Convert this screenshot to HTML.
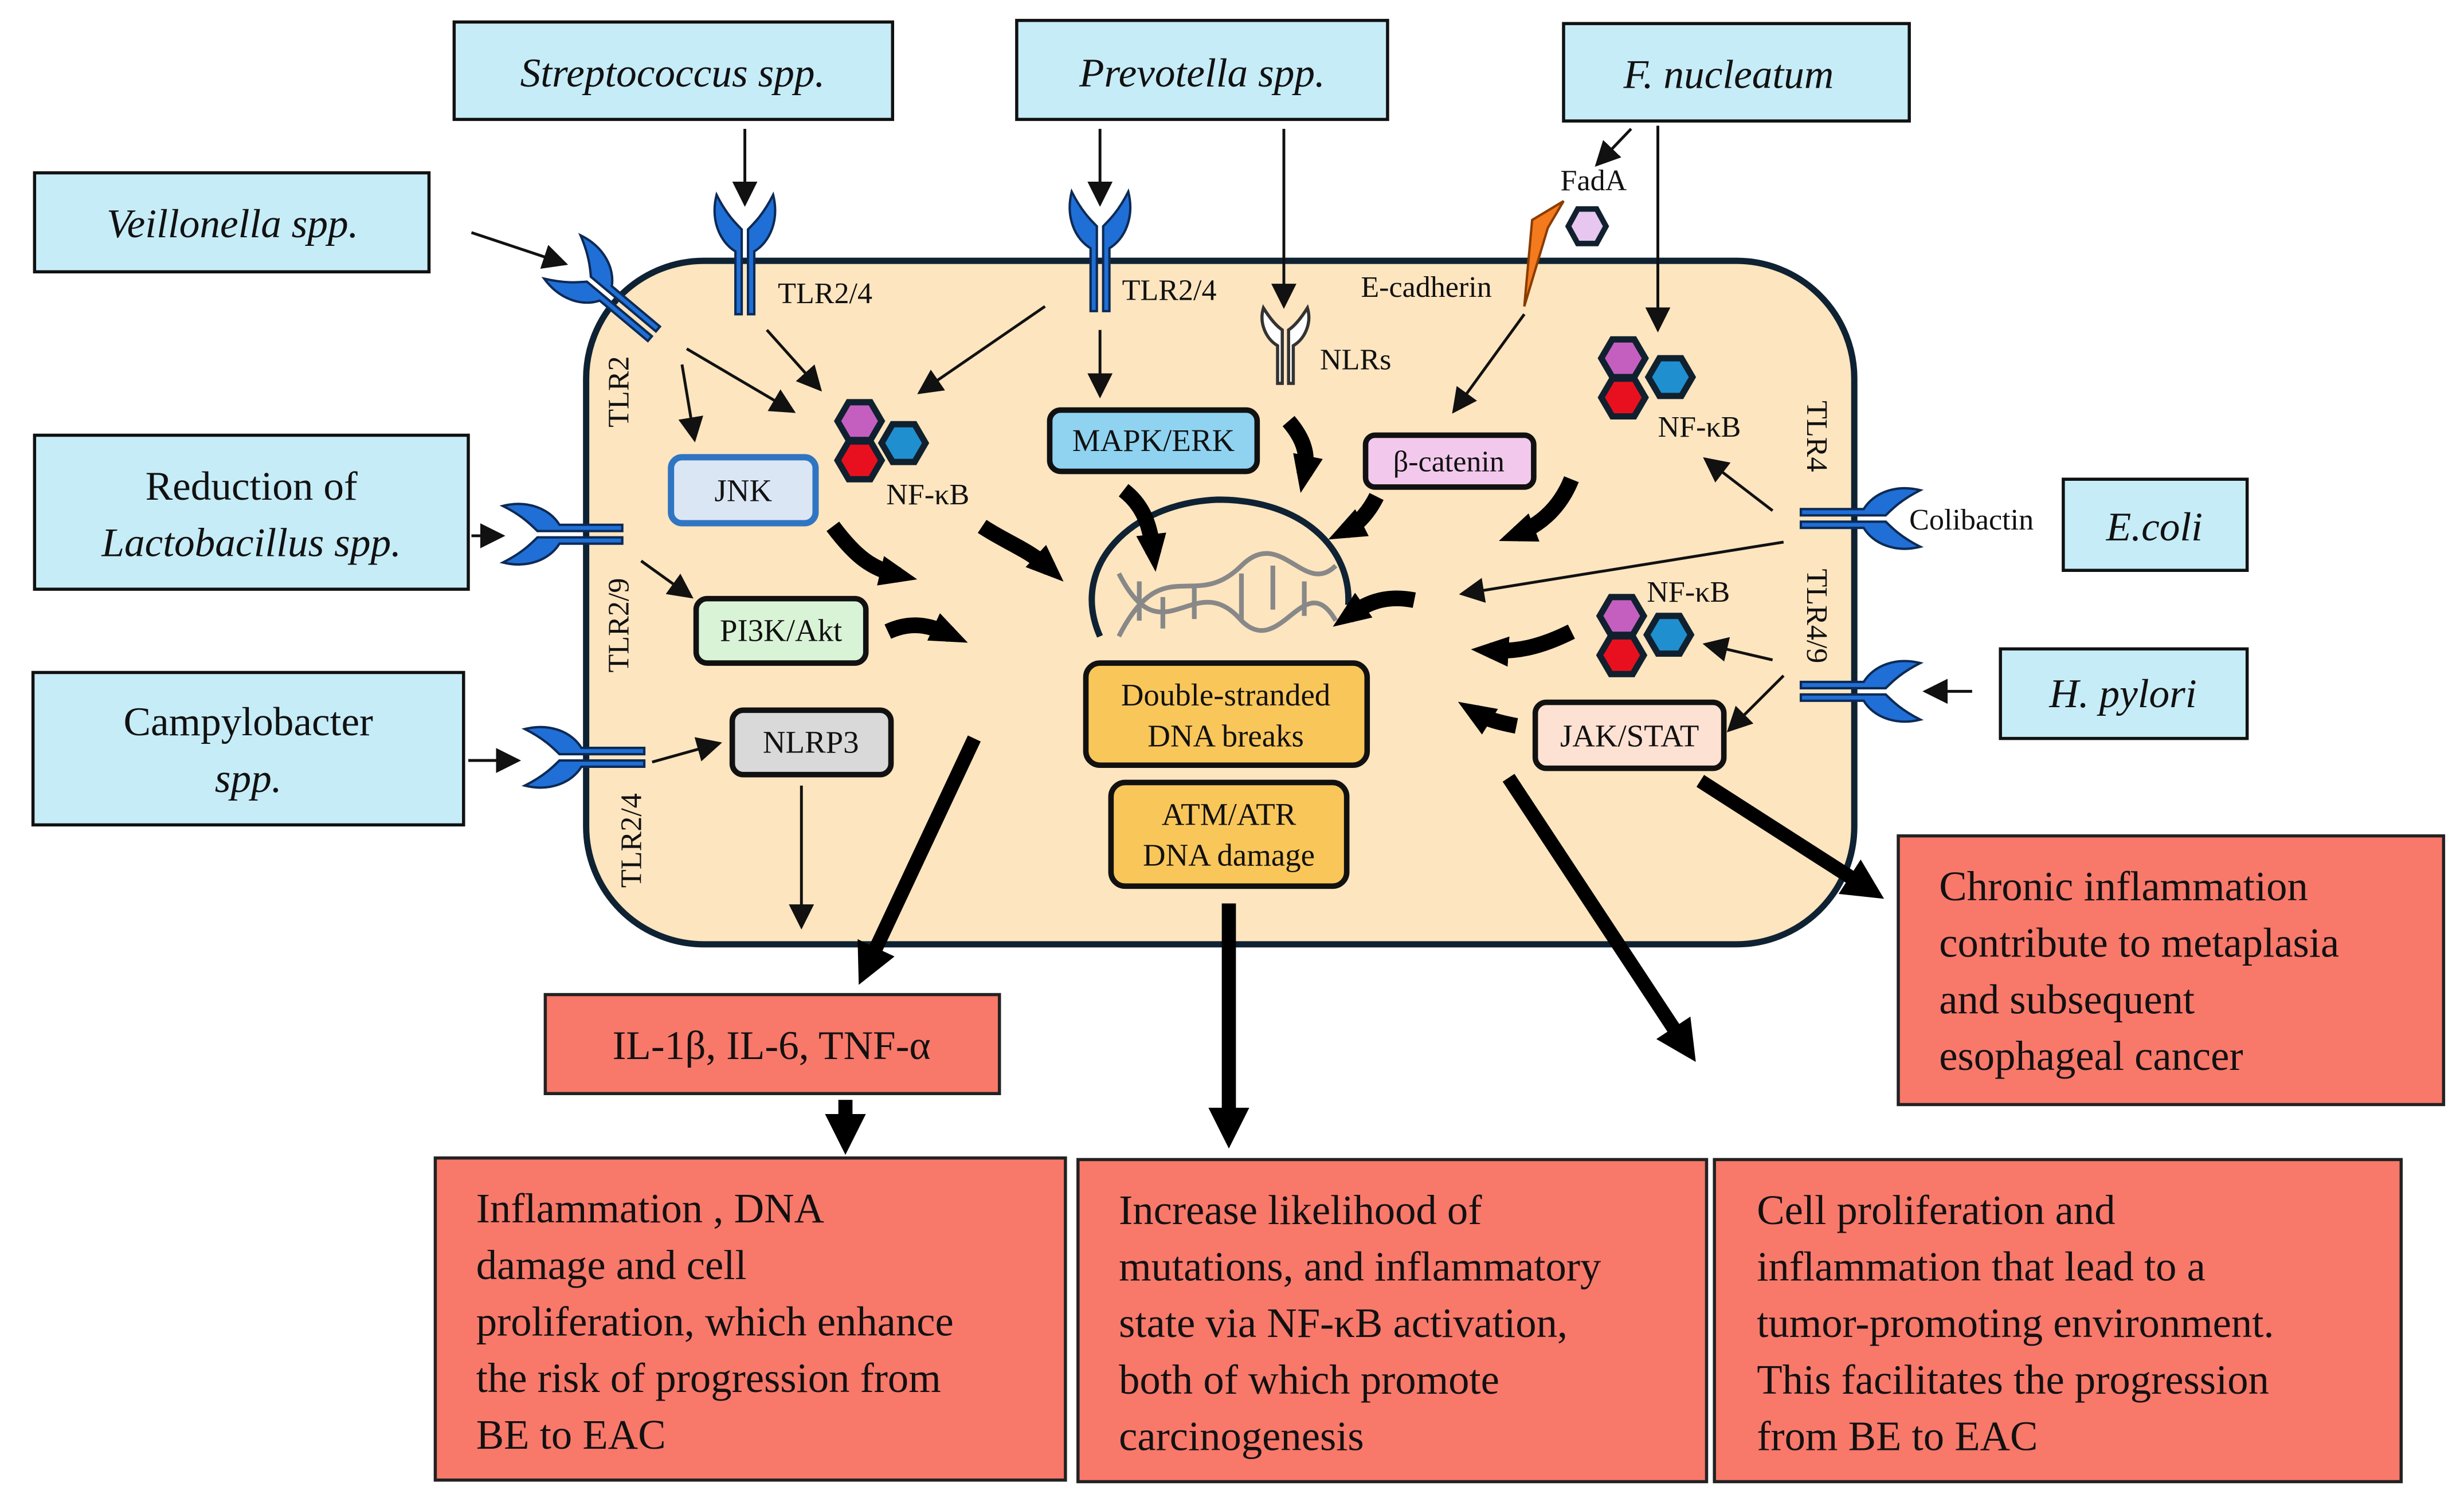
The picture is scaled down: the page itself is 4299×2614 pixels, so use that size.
<!DOCTYPE html>
<html><head><meta charset="utf-8"><style>
html,body{margin:0;padding:0;background:#fff;font-family:"Liberation Serif","Times New Roman",Tinos,Times,serif}
svg{display:block}
svg text{font-family:"Liberation Serif","Times New Roman",Tinos,Times,"DejaVu Serif",serif;fill:#111}
.bx{fill:#c6ecf7;stroke:#111;stroke-width:2}
.rd{fill:#f8786a;stroke:#222;stroke-width:2}
.t{stroke:#111;stroke-width:1.8;fill:none}
.k{stroke:#000;stroke-width:9;fill:none;marker-end:url(#bh)}
.kk{stroke:#000;stroke-width:10;fill:none;marker-end:url(#ch)}
.ib{stroke:#111;stroke-width:3.5}
</style></head><body>
<svg width="4299" height="2614" viewBox="0 0 1568 953.4" preserveAspectRatio="none">
<defs>
<marker id="ah2" viewBox="0 0 10 10" refX="9" refY="5" markerWidth="16" markerHeight="16" orient="auto" markerUnits="userSpaceOnUse"><path d="M0,0 L10,5 L0,10z" fill="#111"/></marker>
<marker id="bh" viewBox="0 0 10 10" refX="5" refY="5" markerWidth="26" markerHeight="26" orient="auto" markerUnits="userSpaceOnUse"><path d="M0,0 L10,5 L0,10z" fill="#000"/></marker>
<marker id="ch" viewBox="0 0 10 10" refX="5" refY="5" markerWidth="24" markerHeight="24" orient="auto" markerUnits="userSpaceOnUse"><path d="M0,1 L10,5 L0,9z" fill="#000"/></marker>
<g id="rc">
<path d="M-2,38 L-6,38 L-6,-2 C-16,-8 -22,-22 -18,-38 C-12,-26 -6,-20 -2,-16 Z" fill="#1f6fd6" stroke="#0d2a55" stroke-width="1.5"/>
<path d="M2,38 L6,38 L6,-2 C16,-8 22,-22 18,-38 C12,-26 6,-20 2,-16 Z" fill="#1f6fd6" stroke="#0d2a55" stroke-width="1.5"/>
</g>
<g id="hx">
<polygon points="-14,0 -7,-12 7,-12 14,0 7,12 -7,12" stroke="#10202e" stroke-width="4"/>
</g>
</defs>

<rect x="373" y="166" width="807" height="435" rx="75" fill="#fde5bf" stroke="#0e2233" stroke-width="4"/>

<rect class="bx" x="289" y="14" width="279" height="62"/><text x="428" y="55" font-size="26" font-style="italic" text-anchor="middle">Streptococcus spp.</text>
<rect class="bx" x="647" y="13" width="236" height="63"/><text x="765" y="55" font-size="26" font-style="italic" text-anchor="middle">Prevotella spp.</text>
<rect class="bx" x="995" y="15" width="220" height="62"/><text x="1100" y="56" font-size="26" font-style="italic" text-anchor="middle">F. nucleatum</text>
<rect class="bx" x="22" y="110" width="251" height="63"/><text x="148" y="151" font-size="26" font-style="italic" text-anchor="middle">Veillonella spp.</text>
<rect class="bx" x="22" y="277" width="276" height="98"/><text x="160" y="318" font-size="26" text-anchor="middle">Reduction of</text><text x="160" y="354" font-size="26" font-style="italic" text-anchor="middle">Lactobacillus spp.</text>
<rect class="bx" x="21" y="428" width="274" height="97"/><text x="158" y="468" font-size="26" text-anchor="middle">Campylobacter</text><text x="158" y="504" font-size="26" font-style="italic" text-anchor="middle">spp.</text>
<rect class="bx" x="1313" y="305" width="117" height="58"/><text x="1371" y="344" font-size="26" font-style="italic" text-anchor="middle">E.coli</text>
<rect class="bx" x="1273" y="413" width="157" height="57"/><text x="1351" y="450" font-size="26" font-style="italic" text-anchor="middle">H. pylori</text>

<rect class="rd" x="347" y="633" width="289" height="63"/><text x="491" y="674" font-size="26" text-anchor="middle">IL-1β, IL-6, TNF-α</text>
<rect class="rd" x="277" y="737" width="401" height="205"/>
<text font-size="26.5"><tspan y="778" x="303">Inflammation , DNA</tspan><tspan y="814" x="303">damage and cell</tspan><tspan y="850" x="303">proliferation, which enhance</tspan><tspan y="886" x="303">the risk of progression from</tspan><tspan y="922" x="303">BE to EAC</tspan></text>
<rect class="rd" x="686" y="738" width="400" height="205"/>
<text font-size="26.5"><tspan y="779" x="712">Increase likelihood of</tspan><tspan y="815" x="712">mutations, and inflammatory</tspan><tspan y="851" x="712">state via NF-κB activation,</tspan><tspan y="887" x="712">both of which promote</tspan><tspan y="923" x="712">carcinogenesis</tspan></text>
<rect class="rd" x="1091" y="738" width="437" height="205"/>
<text font-size="26.5"><tspan y="779" x="1118">Cell proliferation and</tspan><tspan y="815" x="1118">inflammation that lead to a</tspan><tspan y="851" x="1118">tumor-promoting environment.</tspan><tspan y="887" x="1118">This facilitates the progression</tspan><tspan y="923" x="1118">from BE to EAC</tspan></text>
<rect class="rd" x="1208" y="532" width="347" height="171"/>
<text font-size="26.5"><tspan y="573" x="1234">Chronic inflammation</tspan><tspan y="609" x="1234">contribute to metaplasia</tspan><tspan y="645" x="1234">and subsequent</tspan><tspan y="681" x="1234">esophageal cancer</tspan></text>

<rect x="427" y="291" width="92" height="42" rx="7" fill="#dbe6f5" stroke="#2f75c2" stroke-width="4"/><text x="473" y="319" font-size="20" text-anchor="middle">JNK</text>
<rect class="ib" x="443" y="381" width="108" height="41" rx="7" fill="#d9f3d6"/><text x="497" y="408" font-size="20" text-anchor="middle">PI3K/Akt</text>
<rect class="ib" x="466" y="452" width="101" height="41" rx="7" fill="#d9d9d9"/><text x="516" y="479" font-size="20" text-anchor="middle">NLRP3</text>
<rect class="ib" x="668" y="261" width="132" height="39" rx="7" fill="#8fd3f0"/><text x="734" y="287" font-size="20" text-anchor="middle">MAPK/ERK</text>
<rect class="ib" x="869" y="277" width="107" height="33" rx="6" fill="#f2c9ec"/><text x="922" y="300" font-size="19" text-anchor="middle">β-catenin</text>
<rect class="ib" x="691" y="422" width="179" height="65" rx="9" fill="#f9c65a"/><text x="780" y="449" font-size="20" text-anchor="middle">Double-stranded</text><text x="780" y="475" font-size="20" text-anchor="middle">DNA breaks</text>
<rect class="ib" x="707" y="498" width="150" height="66" rx="9" fill="#f9c65a"/><text x="782" y="525" font-size="20" text-anchor="middle">ATM/ATR</text><text x="782" y="551" font-size="20" text-anchor="middle">DNA damage</text>
<rect class="ib" x="977" y="447" width="120" height="42" rx="7" fill="#fde1d3"/><text x="1037" y="475" font-size="20" text-anchor="middle">JAK/STAT</text>

<path d="M700,405 C680,360 720,320 775,318 C830,318 860,350 858,385" fill="none" stroke="#0e2233" stroke-width="4"/>
<g stroke="#888" stroke-width="3" fill="none">
<path d="M712,405 C740,350 760,390 790,360 C815,335 830,380 850,360"/>
<path d="M712,365 C740,420 760,360 790,395 C815,420 830,360 850,395"/>
<path d="M725,370 v25 M740,380 v20 M760,372 v22 M790,365 v30 M810,360 v28 M830,370 v22"/>
</g>

<use href="#rc" transform="translate(474,162)"/>
<use href="#rc" transform="translate(700,160)"/>
<use href="#rc" transform="translate(387,188) rotate(-50)"/>
<use href="#rc" transform="translate(358,340) rotate(-90)"/>
<use href="#rc" transform="translate(372,482) rotate(-90)"/>
<use href="#rc" transform="translate(1184,330) rotate(90)"/>
<use href="#rc" transform="translate(1184,440) rotate(90)"/>
<g transform="translate(818,222)"><path d="M-2,22 L-5,22 L-5,-2 C-12,-6 -17,-16 -14,-26 C-9,-18 -5,-14 -2,-12Z M2,22 L5,22 L5,-2 C12,-6 17,-16 14,-26 C9,-18 5,-14 2,-12Z" fill="#fff" stroke="#333" stroke-width="2"/></g>
<path d="M970,195 L975,140 L995,128 L985,145 Z" fill="#f47a1e" stroke="#8a3c00" stroke-width="1.5"/>
<polygon points="998,144 1004,133 1016,133 1022,144 1016,155 1004,155" fill="#e7c6f0" stroke="#10202e" stroke-width="3.5"/>

<g transform="translate(547,268)"><use href="#hx" fill="#c45fc0"/><use href="#hx" fill="#1f8fd0" transform="translate(28,14)"/><use href="#hx" fill="#e8101e" transform="translate(0,25)"/></g>
<g transform="translate(1033,228)"><use href="#hx" fill="#c45fc0"/><use href="#hx" fill="#1f8fd0" transform="translate(30,12)"/><use href="#hx" fill="#e8101e" transform="translate(0,25)"/></g>
<g transform="translate(1032,392)"><use href="#hx" fill="#c45fc0"/><use href="#hx" fill="#1f8fd0" transform="translate(30,12)"/><use href="#hx" fill="#e8101e" transform="translate(0,25)"/></g>

<g font-size="19">
<text x="495" y="193">TLR2/4</text>
<text x="714" y="191">TLR2/4</text>
<text x="840" y="235">NLRs</text>
<text x="866" y="189">E-cadherin</text>
<text x="993" y="121">FadA</text>
<text x="564" y="321">NF-κB</text>
<text x="1055" y="278">NF-κB</text>
<text x="1048" y="383">NF-κB</text>
<text x="1215" y="337">Colibactin</text>
<text transform="translate(400,272) rotate(-90)">TLR2</text>
<text transform="translate(400,428) rotate(-90)">TLR2/9</text>
<text transform="translate(408,565) rotate(-90)">TLR2/4</text>
<text transform="translate(1150,255) rotate(90)">TLR4</text>
<text transform="translate(1150,362) rotate(90)">TLR4/9</text>
</g>

<g class="t" style="marker-end:url(#ah2)">
<path d="M474,82 L474,130"/>
<path d="M700,82 L700,130"/>
<path d="M817,82 L817,195"/>
<path d="M1055,80 L1055,210"/>
<path d="M1038,82 L1016,105"/>
<path d="M300,148 L360,168"/>
<path d="M434,232 L442,280"/>
<path d="M437,222 L505,262"/>
<path d="M488,210 L522,248"/>
<path d="M665,195 L585,250"/>
<path d="M700,210 L700,252"/>
<path d="M970,200 L925,262"/>
<path d="M1128,325 L1085,292"/>
<path d="M1135,345 L930,378"/>
<path d="M1128,420 L1085,410"/>
<path d="M1135,430 L1100,465"/>
<path d="M1255,440 L1225,440"/>
<path d="M300,341 L320,341"/>
<path d="M298,484 L330,484"/>
<path d="M408,357 L440,380"/>
<path d="M415,485 L458,473"/>
<path d="M510,500 L510,590"/>
</g>

<g class="kk">
<path d="M530,335 C545,355 555,362 572,366"/>
<path d="M565,402 C580,395 592,398 605,404"/>
<path d="M625,335 C640,345 655,350 668,362"/>
<path d="M715,312 C728,322 732,335 734,352"/>
<path d="M820,268 C832,282 832,292 830,302"/>
<path d="M876,316 C870,328 862,335 856,338"/>
<path d="M1000,305 C992,325 978,335 965,340"/>
<path d="M900,382 C880,378 868,385 858,392"/>
<path d="M1000,402 C980,412 965,415 948,414"/>
<path d="M965,462 C955,460 946,458 938,453"/>
</g>
<g class="k">
<path d="M620,470 L552,615"/>
<path d="M782,575 L782,718"/>
<path d="M960,495 L1072,665"/>
<path d="M1082,497 L1188,565"/>
<path d="M538,700 L538,722"/>
</g>
</svg>
</body></html>
